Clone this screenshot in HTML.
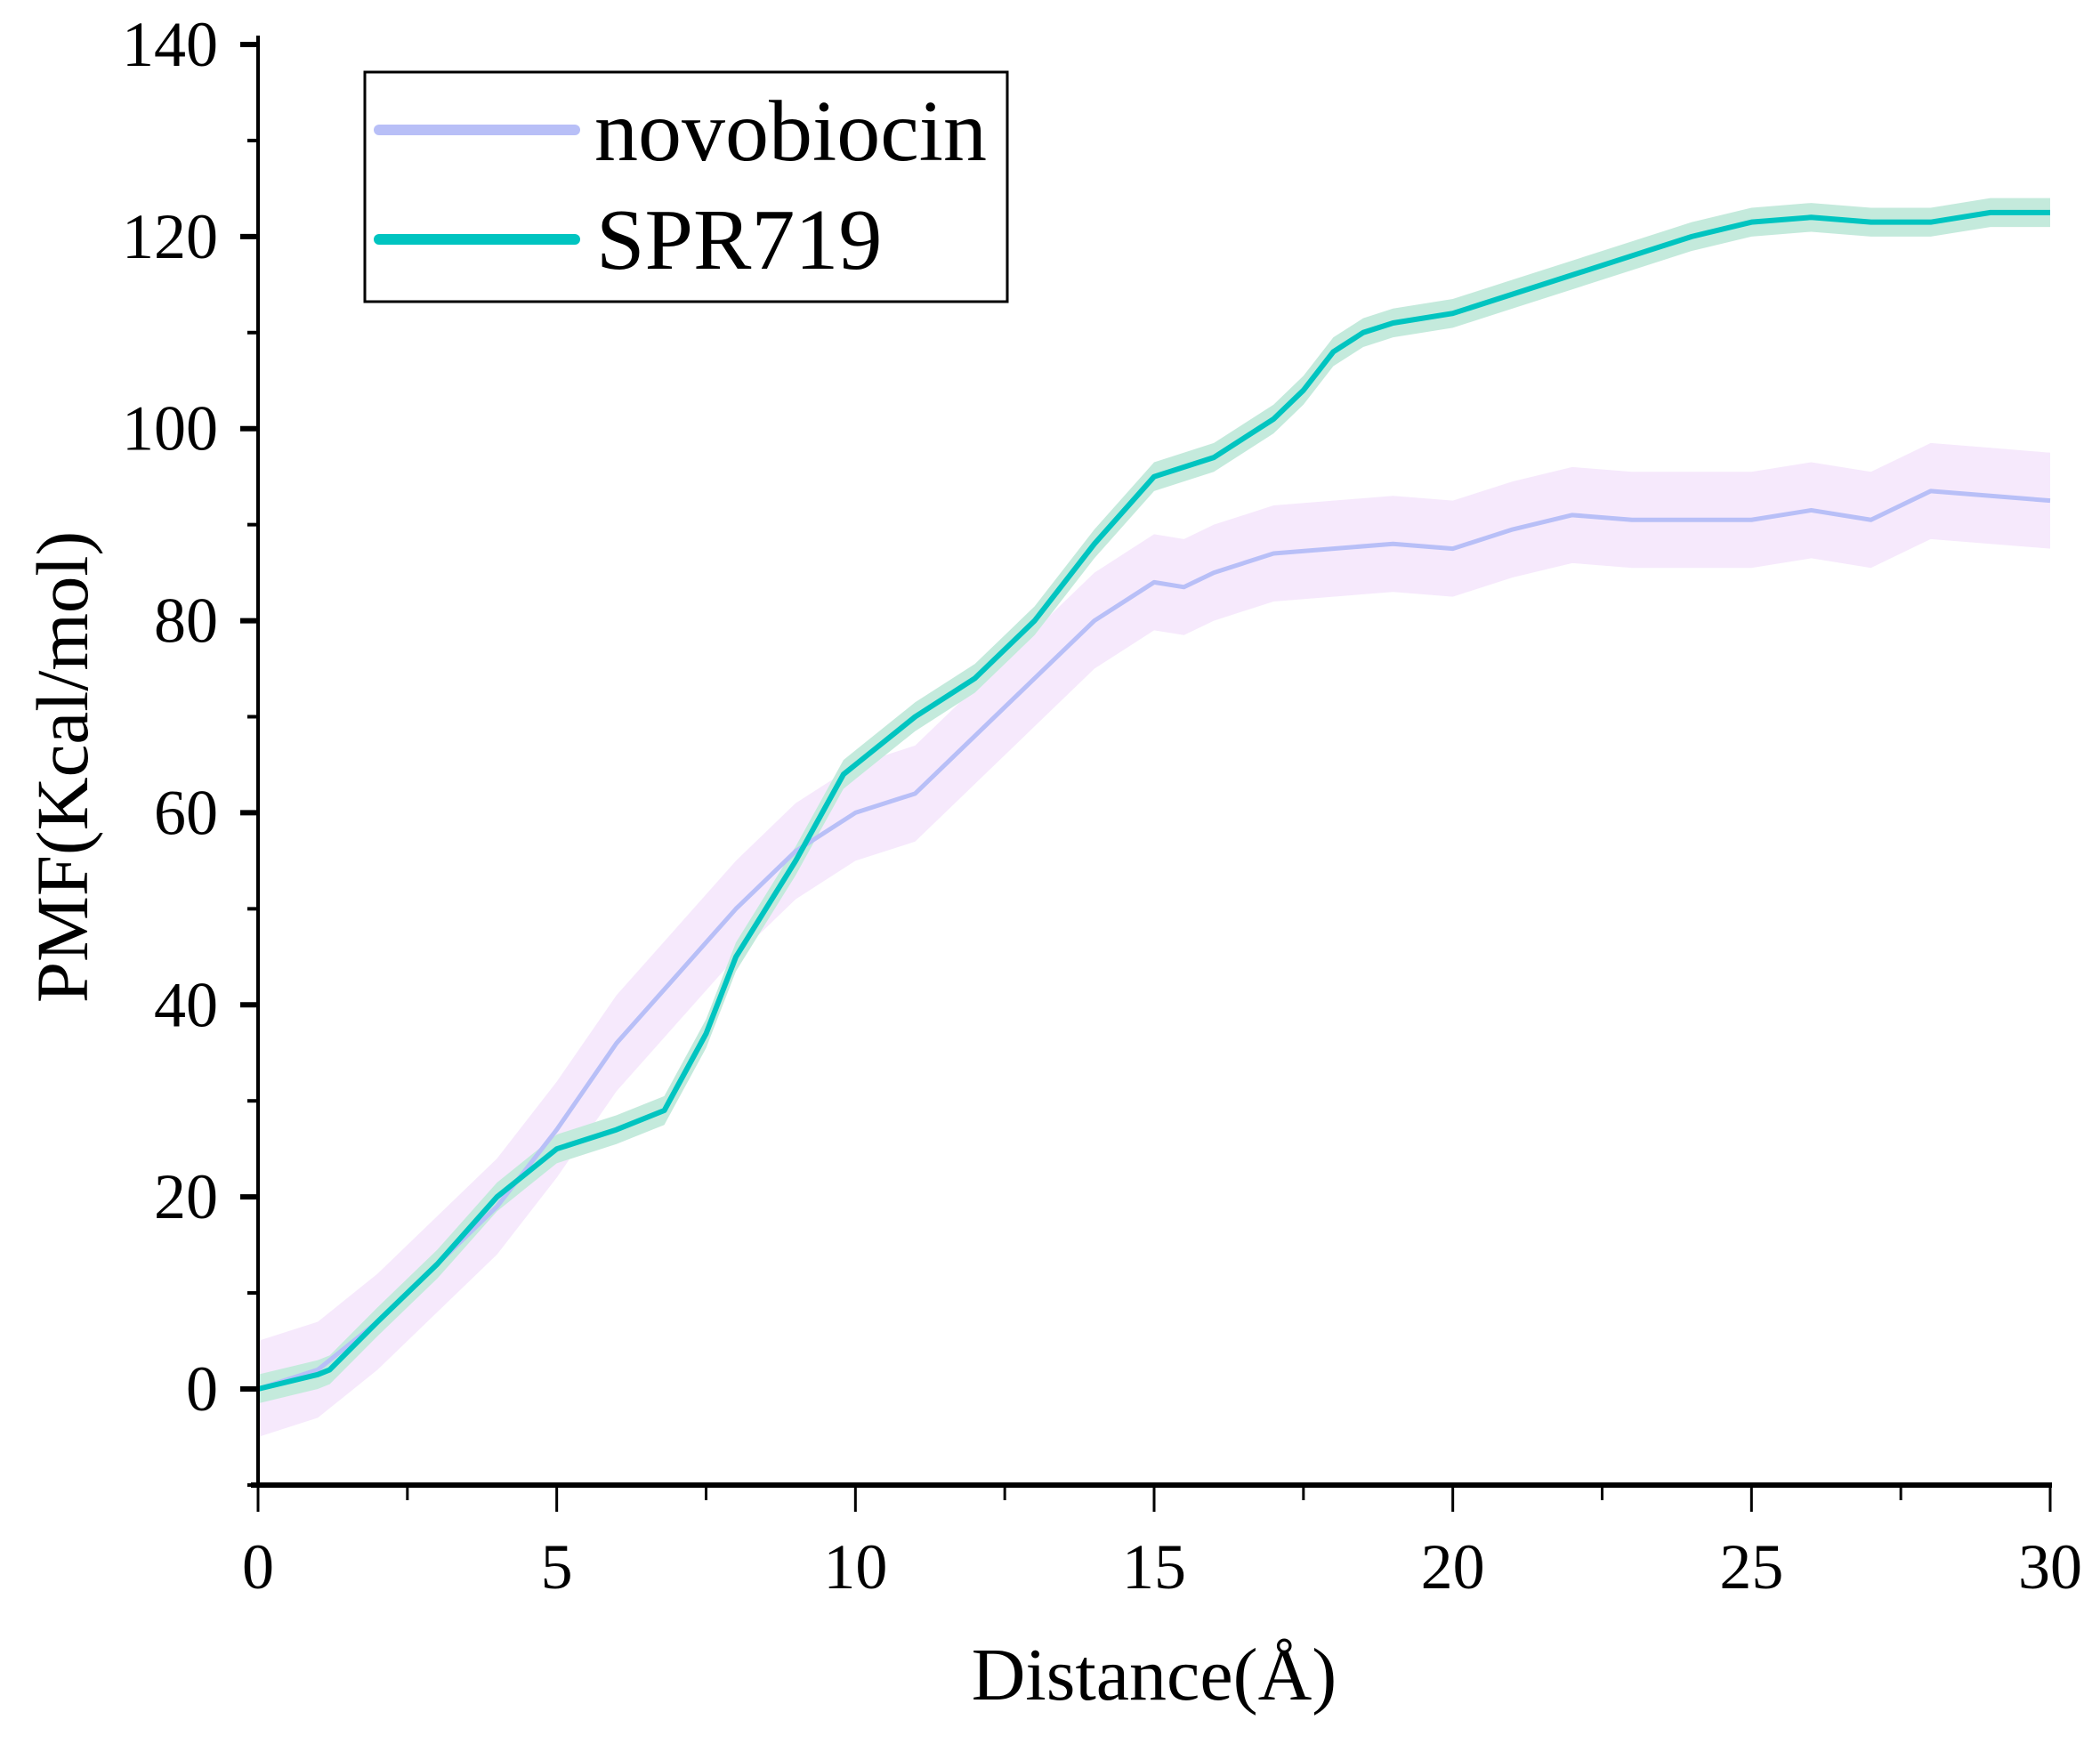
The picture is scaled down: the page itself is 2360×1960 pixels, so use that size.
<!DOCTYPE html>
<html><head><meta charset="utf-8"><style>
html,body{margin:0;padding:0;background:#fff;}
svg{display:block;font-family:"Liberation Serif",serif;}
</style></head><body>
<svg id="chart" width="2360" height="1960" viewBox="0 0 2360 1960">
<g id="bands"></g><g id="lines"></g><g id="axes"></g>
<g>
<rect x="410" y="81" width="722" height="258" fill="#fff" stroke="#000" stroke-width="3"/>
<line x1="426" y1="146" x2="646" y2="146" stroke="#b8bff7" stroke-width="12" stroke-linecap="round"/>
<text x="668" y="180" font-size="98">novobiocin</text>
<line x1="426" y1="269" x2="646" y2="269" stroke="#00c4c0" stroke-width="12" stroke-linecap="round"/>
<text x="670" y="302" font-size="98">SPR719</text>
</g>
<text x="1297" y="1910" font-size="84" text-anchor="middle">Distance(Å)</text>
<text transform="translate(98,862) rotate(-90)" font-size="83" text-anchor="middle">PMF(Kcal/mol)</text>
</svg>
<script>
const sprX=[0,1,1.2,2,3,4,5,6,6.8,7.5,8,9,9.8,10,11,12,13,14,15,16,17,17.5,18,18.5,19,20,21,22,23,24,25,26,27,28,29,30];
const sprY=[0,1.5,2,7,13,20,25,27,29,37,45,55,64,65,70,74,80,88,95,97,101,104,108,110,111,112,114,116,118,120,121.5,122,121.5,121.5,122.5,122.5];
const sprErr=[1.5,1.5,1.5,1.5,1.5,1.5,1.5,1.5,1.5,1.5,1.5,1.5,1.5,1.5,1.5,1.5,1.5,1.5,1.5,1.5,1.5,1.5,1.5,1.5,1.5,1.5,1.5,1.5,1.5,1.5,1.5,1.5,1.5,1.5,1.5,1.5];
const novX=[0,1,2,3,4,5,6,7,8,9,10,11,12,13,14,15,15.5,16,17,18,19,20,21,22,23,24,25,26,27,28,29,30];
const novY=[0,2,7,13,19,27,36,43,50,56,60,62,68,74,80,84,83.5,85,87,87.5,88,87.5,89.5,91,90.5,90.5,90.5,91.5,90.5,93.5,93,92.5];
const novErr=[5,5,5,5,5,5,5,5,5,5,5,5,5,5,5,5,5,5,5,5,5,5,5,5,5,5,5,5,5,5,5,5];
const xTicks=[0,5,10,15,20,25,30];
const yTicks=[0,20,40,60,80,100,120,140];
const NS='http://www.w3.org/2000/svg';
const X0=290,X1=2304,Y0=1561,Y140=50;
const sx=v=>X0+(X1-X0)*v/30;
const sy=v=>Y0-(Y0-Y140)*v/140;
function mk(t,a,p){const e=document.createElementNS(NS,t);for(const k in a)e.setAttribute(k,a[k]);p.appendChild(e);return e;}
const bands=document.getElementById('bands'),lines=document.getElementById('lines'),axes=document.getElementById('axes');
function band(xs,ys,es,fill,name){
  let d='M'+xs.map((x,i)=>sx(x)+','+sy(ys[i]+es[i])).join('L');
  d+='L'+xs.map((x,i)=>sx(x)+','+sy(ys[i]-es[i])).reverse().join('L')+'Z';
  const p=mk('path',{d:d,fill:fill},bands);
  
  
}
function line(xs,ys,col,w,name){
  const p=mk('polyline',{points:xs.map((x,i)=>sx(x)+','+sy(ys[i])).join(' '),fill:'none',stroke:col,'stroke-width':w,'stroke-linejoin':'round'},lines);
  
  
}
band(novX,novY,novErr,'#f6e9fc','novobiocin-error-band');
band(sprX,sprY,sprErr,'#c4eadc','spr719-error-band');
line(novX,novY,'#b8bff7',5,'novobiocin-line');
line(sprX,sprY,'#00c4c0',6,'spr719-line');
const yb=1669;
let a=mk('line',{x1:X0,y1:40,x2:X0,y2:yb,stroke:'#000','stroke-width':4},axes);


a=mk('line',{x1:X0-8,y1:yb,x2:X1+2,y2:yb,stroke:'#000','stroke-width':6},axes);


for(let v=-10;v<=140;v+=10){const maj=v%20===0;mk('line',{x1:X0-(maj?20:12),y1:sy(v),x2:X0,y2:sy(v),stroke:'#000','stroke-width':maj?6:4},axes);}
for(let v=0;v<=30;v+=2.5){const maj=v%5===0;mk('line',{x1:sx(v),y1:yb,x2:sx(v),y2:yb+(maj?30:17),stroke:'#000','stroke-width':3},axes);}
yTicks.forEach(v=>{const t=mk('text',{x:X0-45,y:sy(v)+24,'font-size':72,'text-anchor':'end'},axes);t.textContent=v;

});
xTicks.forEach(v=>{const t=mk('text',{x:sx(v),y:1785,'font-size':72,'text-anchor':'middle'},axes);t.textContent=v;

});
</script>
</body></html>
